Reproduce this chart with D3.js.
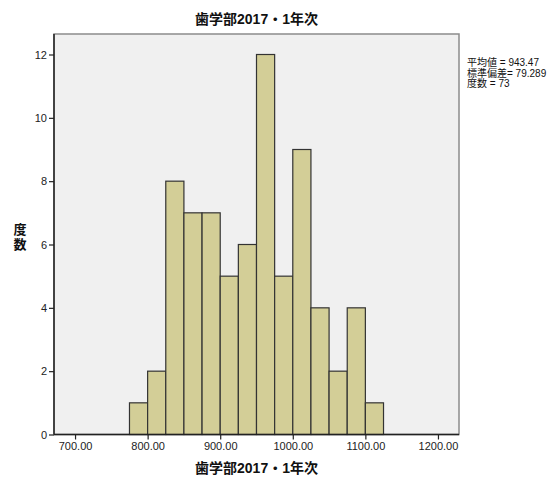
<!DOCTYPE html>
<html>
<head>
<meta charset="utf-8">
<script src="https://cdn.jsdelivr.net/npm/d3@7"></script>
<style>
  body { margin: 0; background: #fff; }
  text { font-family: "Liberation Sans", Arial, "Noto Sans CJK JP", sans-serif; }
  .jp { font-family: "Liberation Sans", "Noto Sans CJK JP", sans-serif; }
</style>
</head>
<body>
<svg width="553" height="479"></svg>
<script>
let binStart = [775, 800, 825, 850, 875, 900, 925, 950, 975, 1000, 1025, 1050, 1075, 1100];
let counts = [1, 2, 8, 7, 7, 5, 6, 12, 5, 9, 4, 2, 4, 1];
let binWidth = 25;
let xTicks = [700, 800, 900, 1000, 1100, 1200];
let yTicks = [0, 2, 4, 6, 8, 10, 12];
let title = "歯学部2017・1年次";
let statLines = ["平均値 = 943.47", "標準偏差= 79.289", "度数 = 73"];

let svg = d3.select("svg");
let plotLeft = 54, plotRight = 459, plotTop = 34, plotBottom = 434.5;

let xScale = d3.scaleLinear().domain([671, 1229]).range([plotLeft, plotRight]);
let yScale = d3.scaleLinear().domain([0, 12]).range([plotBottom, 54.5]);

// plot background
svg.append("rect")
  .attr("x", plotLeft)
  .attr("y", plotTop)
  .attr("width", plotRight - plotLeft)
  .attr("height", plotBottom - plotTop)
  .style("fill", "#f0f0f0")
  .style("stroke", "#8c8c8c")
  .style("stroke-width", 1.5);

// bars
svg.selectAll(".bar")
  .data(counts)
  .enter()
  .append("rect")
  .attr("class", "bar")
  .attr("x", function(d, i) { return xScale(binStart[i]); })
  .attr("y", function(d) { return yScale(d); })
  .attr("width", function(d, i) { return xScale(binStart[i] + binWidth) - xScale(binStart[i]); })
  .attr("height", function(d) { return yScale(0) - yScale(d); })
  .style("fill", "#d3ce97")
  .style("stroke", "#333333")
  .style("stroke-width", 1.2);

// axes
let xAxis = svg.append("g")
  .attr("transform", "translate(0," + plotBottom + ")")
  .call(d3.axisBottom(xScale).tickValues(xTicks).tickSize(5).tickPadding(3)
    .tickFormat(d3.format(".2f")));
xAxis.select(".domain").remove();
xAxis.append("line")
  .attr("x1", plotLeft).attr("x2", plotRight)
  .attr("stroke", "#222").attr("stroke-width", 1.5);

let yAxis = svg.append("g")
  .attr("transform", "translate(" + plotLeft + ",0)")
  .call(d3.axisLeft(yScale).tickValues(yTicks).tickSize(5).tickPadding(2));
yAxis.select(".domain").remove();
yAxis.append("line")
  .attr("y1", plotTop).attr("y2", plotBottom)
  .attr("stroke", "#222").attr("stroke-width", 1.5);

svg.selectAll(".tick line").attr("stroke", "#222").attr("stroke-width", 1.2);
svg.selectAll(".tick text")
  .style("font-size", "11px")
  .style("fill", "#222");

// title
svg.append("text")
  .attr("class", "jp")
  .attr("x", (plotLeft + plotRight) / 2)
  .attr("y", 24)
  .attr("text-anchor", "middle")
  .style("font-size", "14px")
  .style("font-weight", "bold")
  .style("fill", "#111")
  .text(title);

// x label
svg.append("text")
  .attr("class", "jp")
  .attr("x", (plotLeft + plotRight) / 2)
  .attr("y", 473)
  .attr("text-anchor", "middle")
  .style("font-size", "14px")
  .style("font-weight", "bold")
  .style("fill", "#111")
  .text(title);

// y label, stacked characters
svg.append("text")
  .attr("class", "jp")
  .attr("x", 20)
  .attr("y", 234)
  .attr("text-anchor", "middle")
  .style("font-size", "13px")
  .style("font-weight", "bold")
  .style("fill", "#111")
  .selectAll("tspan")
  .data(["度", "数"])
  .enter()
  .append("tspan")
  .attr("x", 20)
  .attr("dy", function(d, i) { return i == 0 ? 0 : 15; })
  .text(function(d) { return d; });

// stats box
svg.append("g")
  .selectAll("text")
  .data(statLines)
  .enter()
  .append("text")
  .attr("class", "jp")
  .attr("x", 467)
  .attr("y", function(d, i) { return 66 + i * 10.5; })
  .style("font-size", "10px")
  .style("fill", "#111")
  .text(function(d) { return d; });
</script>
</body>
</html>
